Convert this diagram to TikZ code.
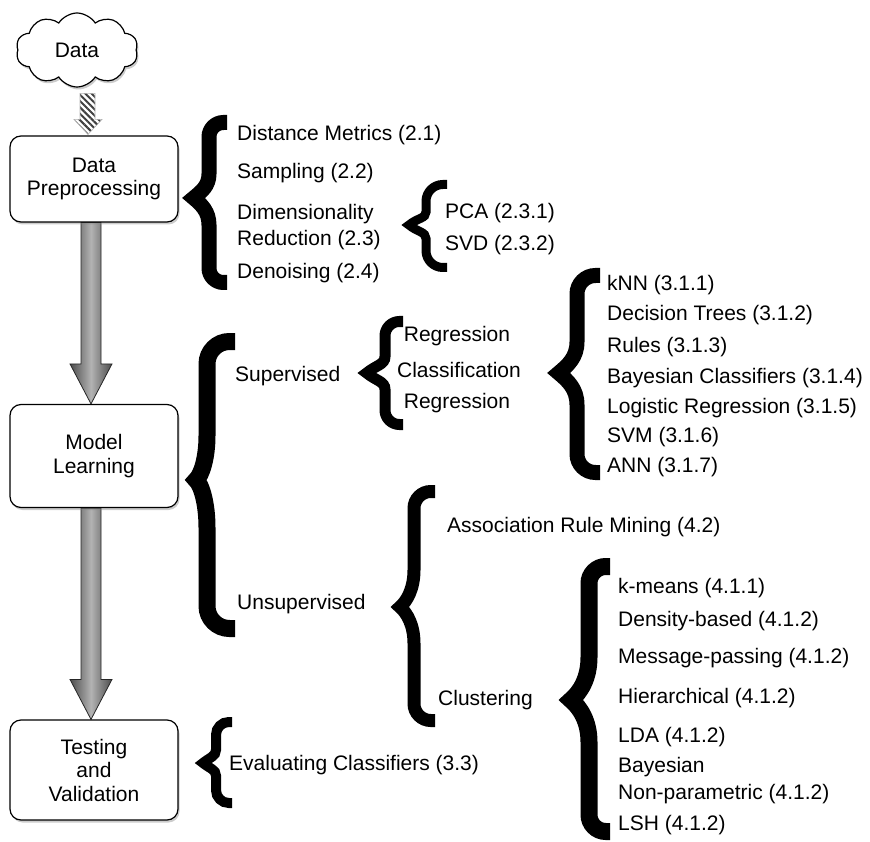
\documentclass[tikz,border=0pt]{standalone}
\usepackage{fontspec}
\setmainfont{Liberation Sans}
\usetikzlibrary{shapes.symbols,shadows,patterns.meta,calc,backgrounds}

\tikzset{
  lbl/.style={anchor=west, inner sep=0pt, font=\fontsize{21}{24}\selectfont, align=left},
  stage/.style={draw=black, line width=1.2pt, rounded corners=11pt, fill=white,
    minimum width=168pt, align=center, inner sep=0pt,
    font=\fontsize{21}{23.5}\selectfont,
    drop shadow={shadow xshift=1.5pt, shadow yshift=-2.5pt, opacity=0.4}},
  cloudnode/.style={cloud, cloud puffs=10, cloud puff arc=115, aspect=1.7,
    draw=black, line width=1.2pt, fill=white, minimum width=122pt, minimum height=74pt,
    inner sep=0pt, font=\fontsize{21}{24}\selectfont,
    drop shadow={shadow xshift=1.5pt, shadow yshift=-2.5pt, opacity=0.4}},
  bracestroke/.style={draw=black, line cap=butt, line join=miter, miter limit=20},
  flowarrow/.style={draw=black!85, line width=0.8pt, left color=black!70, right color=black!70, middle color=black!30},
  hatcharrow/.style={draw=black!30, line width=0.6pt, pattern={Lines[angle=-45, distance=4.5pt, line width=2pt]}, pattern color=black!75},
}

% #1 line width, #2 x right, #3 y top, #4 y bottom, #5 x tip, #6 x stem, #7 y tip
\newcommand\curlybrace[7]{%
  \pgfmathsetmacro\cbr{0.8*(#2-#6)}%
  \pgfmathsetmacro\cbA{#6+\cbr}%
  \pgfmathsetmacro\cbB{#6+0.45*\cbr}%
  \pgfmathsetmacro\cbT{#3+\cbr}%
  \pgfmathsetmacro\cbTc{#3+0.45*\cbr}%
  \pgfmathsetmacro\cbU{#4-\cbr}%
  \pgfmathsetmacro\cbUc{#4-0.45*\cbr}%
  \pgfmathsetmacro\cbh{0.32*(#7-#3)}%
  \pgfmathsetmacro\cbk{0.32*(#4-#7)}%
  \pgfmathsetmacro\cbP{#7-\cbh}%
  \pgfmathsetmacro\cbPc{#7-0.5*\cbh}%
  \pgfmathsetmacro\cbQ{#7+\cbk}%
  \pgfmathsetmacro\cbQc{#7+0.5*\cbk}%
  \pgfmathsetmacro\cbc{0.5*(#6-#5)}%
  \pgfmathsetmacro\cbM{#5+\cbc}%
  \pgfmathsetmacro\cbMa{#7-0.84*\cbc}%
  \pgfmathsetmacro\cbMb{#7+0.84*\cbc}%
  \draw[bracestroke, line width=#1pt]
    (#2,#3) -- (\cbA,#3) .. controls (\cbB,#3) and (#6,\cbTc) .. (#6,\cbT)
    -- (#6,\cbP) .. controls (#6,\cbPc) and (\cbM,\cbMa) .. (#5,#7)
    .. controls (\cbM,\cbMb) and (#6,\cbQc) .. (#6,\cbQ)
    -- (#6,\cbU) .. controls (#6,\cbUc) and (\cbB,#4) .. (\cbA,#4) -- (#2,#4);
}

\begin{document}
\begin{tikzpicture}[x=1pt,y=-1pt]
\useasboundingbox (0,0) rectangle (870,842);

% main stages
\node[cloudnode] (cloud) at (77,50) {Data};
\node[stage, minimum height=86pt] (dp) at (94,179) {Data\\Preprocessing};
\node[stage, minimum height=103pt] (ml) at (94,456) {Model\\Learning};
\node[stage, minimum height=100pt] (tv) at (94,770) {Testing\\and\\Validation};

\begin{scope}[on background layer]
  \path[hatcharrow] ($(dp.north)+(-14,-42)$) -- ($(dp.north)+(1,-42)$) -- ($(dp.north)+(1,-16)$)
    -- ($(dp.north)+(8,-16)$) -- ($(dp.north)+(-6,-1)$) -- ($(dp.north)+(-20,-16)$)
    -- ($(dp.north)+(-14,-16)$) -- cycle;
  \path[flowarrow] ($(dp.south)+(-13,0)$) -- ($(dp.south)+(7,0)$) -- ($(ml.north)+(7,-40)$)
    -- ($(ml.north)+(18,-40)$) -- ($(ml.north)+(-3,0)$) -- ($(ml.north)+(-24,-40)$)
    -- ($(ml.north)+(-13,-40)$) -- cycle;
  \path[flowarrow] ($(ml.south)+(-13,0)$) -- ($(ml.south)+(7,0)$) -- ($(tv.north)+(7,-40)$)
    -- ($(tv.north)+(18,-40)$) -- ($(tv.north)+(-3,0)$) -- ($(tv.north)+(-24,-40)$)
    -- ($(tv.north)+(-13,-40)$) -- cycle;
\end{scope}

% preprocessing
\node[lbl] (dm) at (237,135) {Distance Metrics (2.1)};
\node[lbl] (samp) at (237,173) {Sampling (2.2)};
\node[lbl, font=\fontsize{21}{26}\selectfont] (dr) at (237,227) {Dimensionality\\Reduction (2.3)};
\node[lbl] (den) at (237,273) {Denoising (2.4)};
\node[lbl] (pca) at (445,213) {PCA (2.3.1)};
\node[lbl] (svd) at (445,245) {SVD (2.3.2)};

% model learning
\node[lbl] (sup) at (235,376) {Supervised};
\node[lbl, anchor=center] (reg1) at (457,336) {Regression};
\node[lbl, anchor=center] (cls) at (459,370) {Classification};
\node[lbl, anchor=center] (reg2) at (457,403) {Regression};
\node[lbl] (knn) at (607,285) {kNN (3.1.1)};
\node[lbl] (dt) at (607,315) {Decision Trees (3.1.2)};
\node[lbl] (rules) at (607,347) {Rules (3.1.3)};
\node[lbl] (bc) at (607,378) {Bayesian Classifiers (3.1.4)};
\node[lbl] (lr) at (607,408) {Logistic Regression (3.1.5)};
\node[lbl] (svm) at (607,437) {SVM (3.1.6)};
\node[lbl] (ann) at (607,467) {ANN (3.1.7)};

\node[lbl] (unsup) at (237,604) {Unsupervised};
\node[lbl] (arm) at (447,527) {Association Rule Mining (4.2)};
\node[lbl] (clu) at (438,700) {Clustering};
\node[lbl] (km) at (618,588) {k-means (4.1.1)};
\node[lbl] (db) at (618,621) {Density-based (4.1.2)};
\node[lbl] (mp) at (618,658) {Message-passing (4.1.2)};
\node[lbl] (hier) at (618,698) {Hierarchical (4.1.2)};
\node[lbl] (lda) at (618,737) {LDA (4.1.2)};
\node[lbl, font=\fontsize{21}{27}\selectfont] (bnp) at (618,781) {Bayesian\\Non-parametric (4.1.2)};
\node[lbl] (lsh) at (618,825) {LSH (4.1.2)};

% testing
\node[lbl] (ec) at (229,765) {Evaluating Classifiers (3.3)};

% braces: width, x right, y top, y bottom, x tip, x stem, y tip
\curlybrace{15}{227}{122.5}{282.5}{193.7}{209}{198}
\curlybrace{9}{447}{184.5}{267.5}{409}{426}{225}
\curlybrace{17}{235}{341.5}{628.5}{196}{207}{480}
\curlybrace{11}{403}{321.5}{424.5}{366.6}{385}{373}
\curlybrace{15}{600}{275.5}{472.5}{558.7}{577}{373}
\curlybrace{13}{435}{491.5}{720.5}{400}{414}{607}
\curlybrace{17}{610}{566.5}{831.5}{571}{589}{700}
\curlybrace{10}{232}{722}{803}{203}{216}{763}
\end{tikzpicture}
\end{document}
